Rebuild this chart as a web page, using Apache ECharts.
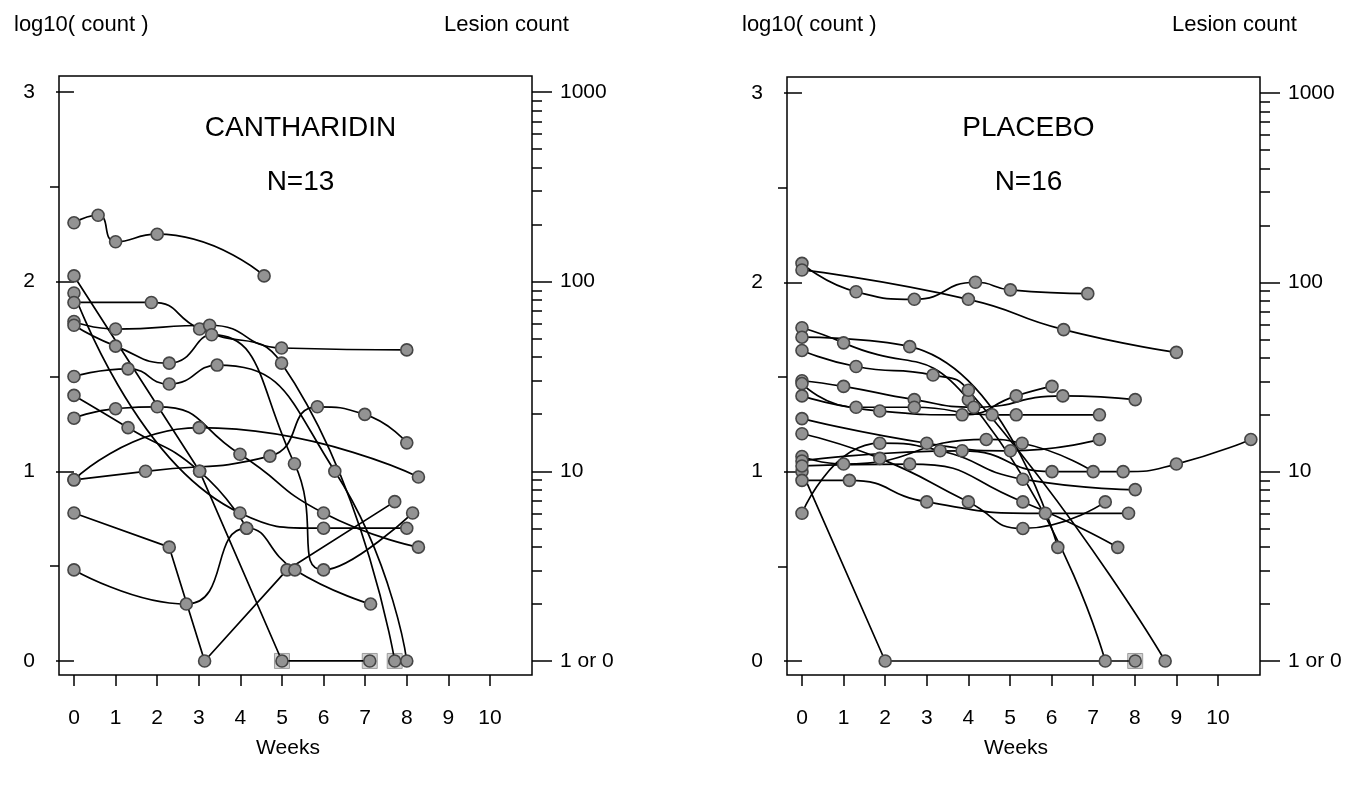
<!DOCTYPE html>
<html>
<head>
<meta charset="utf-8">
<script src="https://cdn.jsdelivr.net/npm/echarts@6/dist/echarts.min.js"></script>
<style>
  html, body { margin: 0; padding: 0; background: #fff; }
  #chart { width: 1370px; height: 787px; }
</style>
</head>
<body>
<div id="chart"></div>
<script>
// weeks on x, log10(lesion count) on y; one inner array per patient
const weekTicks = [0, 1, 2, 3, 4, 5, 6, 7, 8, 9, 10];
const logTicks = [0, 1, 2, 3];
const halfTicks = [0.5, 1.5, 2.5];
const countLabels = ['1 or 0', '10', '100', '1000'];
const minorMultipliers = [2, 3, 4, 5, 6, 7, 8, 9];
const decades = [1, 10, 100];

const cantharidin = [
  [[0, 2.31], [0.58, 2.35], [1.0, 2.21], [2.0, 2.25], [4.57, 2.03]],
  [[0, 2.03], [3.02, 1.0], [5.0, 0], [7.11, 0]],
  [[0, 1.94], [3.99, 0.78], [6.0, 0.70], [8.0, 0.70]],
  [[0, 1.89], [1.86, 1.89], [3.02, 1.75], [4.99, 1.57], [7.71, 0]],
  [[0, 1.79], [1.0, 1.75], [3.26, 1.77], [4.99, 1.65], [8.0, 1.64]],
  [[0, 1.77], [1.0, 1.66], [2.29, 1.57], [3.31, 1.72], [5.30, 1.04], [6.0, 0.48], [8.14, 0.78]],
  [[0, 1.50], [1.30, 1.54], [2.29, 1.46], [3.44, 1.56], [6.27, 1.0], [8.0, 0]],
  [[0, 1.40], [1.30, 1.23], [3.02, 1.0], [4.15, 0.70]],
  [[0, 1.28], [1.0, 1.33], [2.0, 1.34], [3.99, 1.09], [6.0, 0.78], [8.28, 0.60]],
  [[0, 0.955], [3.01, 1.23], [8.28, 0.97]],
  [[0, 0.955], [1.72, 1.0], [4.71, 1.08], [5.85, 1.34], [6.99, 1.30], [8.0, 1.15]],
  [[0, 0.78], [2.29, 0.60], [3.14, 0], [5.12, 0.48], [7.71, 0.84]],
  [[0, 0.48], [2.70, 0.30], [4.15, 0.70], [5.31, 0.48], [7.13, 0.30]]
];
const cantharidinSquares = [[5.0, 0], [7.11, 0], [7.71, 0]];
const cantharidinStraight = [1, 11];

const placebo = [
  [[0, 2.10], [1.30, 1.95], [2.70, 1.91], [4.17, 2.0], [5.01, 1.96], [6.87, 1.94]],
  [[0, 2.065], [4.0, 1.91], [6.29, 1.75], [9.0, 1.63]],
  [[0, 1.76], [1.0, 1.68], [4.0, 1.38], [7.29, 0]],
  [[0, 1.71], [2.59, 1.66], [6.15, 0.60]],
  [[0, 1.64], [1.30, 1.555], [3.15, 1.51], [4.0, 1.43], [8.73, 0]],
  [[0, 1.48], [1.0, 1.45], [2.70, 1.38], [4.13, 1.34], [6.27, 1.40], [8.01, 1.38]],
  [[0, 1.465], [1.30, 1.34], [2.70, 1.34], [4.57, 1.30], [5.15, 1.30], [7.15, 1.30]],
  [[0, 1.40], [1.87, 1.32], [3.85, 1.30], [5.15, 1.40], [6.01, 1.45]],
  [[0, 1.28], [3.0, 1.15], [5.01, 1.11], [7.15, 1.17]],
  [[0, 1.20], [1.87, 1.07], [4.0, 0.84], [5.31, 0.70], [7.29, 0.84]],
  [[0, 1.08], [1.0, 1.04], [4.43, 1.17], [5.29, 1.15], [7.0, 1.0]],
  [[0, 1.056], [3.85, 1.11], [6.01, 1.0], [7.72, 1.0], [9.0, 1.04], [10.79, 1.17]],
  [[0, 1.0], [2.0, 0], [8.01, 0]],
  [[0, 0.954], [1.14, 0.954], [3.0, 0.84], [5.85, 0.78], [7.85, 0.78]],
  [[0, 0.78], [1.87, 1.15], [3.32, 1.11], [5.31, 0.96], [8.01, 0.905]],
  [[0, 1.03], [2.59, 1.04], [5.31, 0.84], [7.59, 0.60]]
];
const placeboSquares = [[8.01, 0]];
const placeboStraight = [12];

const minorCountTicks = decades.flatMap(d => minorMultipliers.map(k => Math.log10(k * d)));

const FONT = '"Liberation Sans", Arial, Helvetica, sans-serif';
const panels = [
  { name: 'CANTHARIDIN', n: 'N=13', patients: cantharidin, squares: cantharidinSquares, straight: cantharidinStraight,
    grid: { left: 59, top: 76, width: 473, height: 599 } },
  { name: 'PLACEBO', n: 'N=16', patients: placebo, squares: placeboSquares, straight: placeboStraight,
    grid: { left: 787, top: 77, width: 473, height: 598 } }
];

const grids = [], xAxes = [], yAxes = [], series = [], titles = [];

function yAxisBase(gi, position, ticks, len) {
  return {
    type: 'value', gridIndex: gi, position: position, min: -0.074, max: 3.084,
    axisLine: { show: false },
    axisTick: { show: true, customValues: ticks, length: len, lineStyle: { color: '#000', width: 1.5 } },
    axisLabel: { show: false },
    splitLine: { show: false }
  };
}

panels.forEach((p, i) => {
  grids.push(Object.assign({ show: true, borderColor: '#000', borderWidth: 1.5, backgroundColor: '#fff' }, p.grid));

  xAxes.push({
    type: 'value', gridIndex: i, min: -0.36, max: 11.01,
    axisLine: { show: false, onZero: false },
    axisTick: { show: true, customValues: weekTicks, length: 11, lineStyle: { color: '#000', width: 1.5 } },
    axisLabel: { customValues: weekTicks, margin: 33, fontSize: 21, color: '#000', fontFamily: FONT },
    splitLine: { show: false }
  });

  const leftMajor = yAxisBase(i, 'left', logTicks, 18);
  leftMajor.axisLabel = { show: true, customValues: logTicks, margin: 24, fontSize: 21, color: '#000', fontFamily: FONT };
  const leftMinor = yAxisBase(i, 'left', halfTicks, 9);
  const rightMajor = yAxisBase(i, 'right', logTicks, 20);
  rightMajor.axisLabel = {
    show: true, customValues: logTicks, margin: 28, fontSize: 21, color: '#000', fontFamily: FONT,
    formatter: v => countLabels[logTicks.indexOf(Math.round(v))]
  };
  const rightMinor = yAxisBase(i, 'right', minorCountTicks, 10);
  yAxes.push(leftMajor, leftMinor, rightMajor, rightMinor);

  series.push({
    type: 'scatter', xAxisIndex: i, yAxisIndex: i * 4, data: p.squares,
    symbol: 'rect', symbolSize: 15, z: 2,
    itemStyle: { color: '#c4c4c4', borderColor: '#8c8c8c', borderWidth: 1 }
  });
  p.patients.forEach((pts, k) => {
    series.push({
      type: 'line', xAxisIndex: i, yAxisIndex: i * 4, data: pts,
      smooth: p.straight.includes(k) ? false : 0.55,
      symbol: 'circle', symbolSize: 12, z: 3,
      lineStyle: { color: '#000', width: 1.7 },
      itemStyle: { color: '#939393', borderColor: '#454545', borderWidth: 1.6 }
    });
  });

  const g = p.grid;
  const cx = g.left + g.width / 2;
  const textStyle = { fontFamily: FONT, color: '#000', fontWeight: 'normal' };
  titles.push(
    { text: p.name, left: cx, top: 109, textAlign: 'center', textStyle: Object.assign({ fontSize: 28 }, textStyle) },
    { text: p.n, left: cx, top: 163, textAlign: 'center', textStyle: Object.assign({ fontSize: 28 }, textStyle) },
    { text: 'log10( count )', left: g.left - 50, top: 9, textStyle: Object.assign({ fontSize: 22 }, textStyle) },
    { text: 'Lesion count', left: g.left + 380, top: 9, textStyle: Object.assign({ fontSize: 22 }, textStyle) },
    { text: 'Weeks', left: g.left + 224, top: 733, textAlign: 'center', textStyle: Object.assign({ fontSize: 21 }, textStyle) }
  );
});

const chart = echarts.init(document.getElementById('chart'));
chart.setOption({
  animation: false,
  backgroundColor: '#fff',
  title: titles,
  grid: grids,
  xAxis: xAxes,
  yAxis: yAxes,
  series: series
});
</script>
</body>
</html>
